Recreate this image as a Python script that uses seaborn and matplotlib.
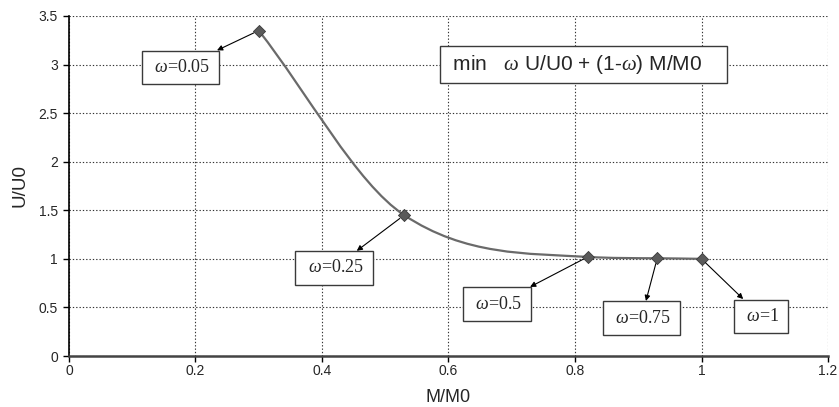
import numpy as np
import pandas as pd
import matplotlib
matplotlib.use("Agg")
import matplotlib.pyplot as plt
from matplotlib.path import Path
from matplotlib.patches import PathPatch
import seaborn as sns

# Pareto points of the weighted objective
m_ratio = [0.30, 0.53, 0.82, 0.93, 1.00]
u_ratio = [3.35, 1.45, 1.02, 1.006, 1.00]
weights = ["0.05", "0.25", "0.5", "0.75", "1"]
label_x = [0.177, 0.419, 0.677, 0.905, 1.094]
label_y = [2.97, 0.906, 0.535, 0.39, 0.41]

x_ticks = [0, 0.2, 0.4, 0.6, 0.8, 1, 1.2]
y_ticks = [0, 0.5, 1, 1.5, 2, 2.5, 3, 3.5]

sns.set_style("white")
plt.rcParams["font.family"] = ["Liberation Sans", "DejaVu Sans"]
plt.rcParams["mathtext.fontset"] = "custom"
plt.rcParams["mathtext.it"] = "Liberation Serif:italic"
plt.rcParams["mathtext.rm"] = "Liberation Serif"

fig = plt.figure(figsize=(8.39, 4.07), dpi=100)
ax = fig.add_axes([0.0822, 0.1253, 0.9047, 0.8354])
ax.set_xlim(0, 1.2)
ax.set_ylim(0, 3.5)


def smooth_path(xs, ys):
    """Monotone-limited cubic Hermite curve written as Bezier segments."""
    xs = np.asarray(xs, float)
    ys = np.asarray(ys, float)
    h = np.diff(xs)
    d = np.diff(ys) / h
    n = len(xs)
    m = np.empty(n)
    m[0], m[-1] = d[0], d[-1]
    for i in range(1, n - 1):
        m[i] = (ys[i + 1] - ys[i - 1]) / (xs[i + 1] - xs[i - 1])
    for k in range(n - 1):
        a, b = m[k] / d[k], m[k + 1] / d[k]
        s = a * a + b * b
        if s > 9:
            tau = 3.0 / np.sqrt(s)
            m[k] *= tau
            m[k + 1] *= tau
    verts = [(xs[0], ys[0])]
    codes = [Path.MOVETO]
    for k in range(n - 1):
        step = h[k] / 3.0
        verts += [(xs[k] + step, ys[k] + m[k] * step),
                  (xs[k + 1] - step, ys[k + 1] - m[k + 1] * step),
                  (xs[k + 1], ys[k + 1])]
        codes += [Path.CURVE4] * 3
    return Path(verts, codes)


ax.add_patch(PathPatch(smooth_path(m_ratio, u_ratio), fc="none",
                       ec="#6a6a6a", lw=1.6, zorder=3))

df = pd.DataFrame({"M/M0": m_ratio, "U/U0": u_ratio})
sns.scatterplot(data=df, x="M/M0", y="U/U0", marker="D", s=38,
                color="#5a5a5a", edgecolor="#3a3a3a", linewidth=0.6,
                zorder=4, ax=ax)

for x, y, w, tx, ty in zip(m_ratio, u_ratio, weights, label_x, label_y):
    ax.annotate(r" $\omega$=" + w + " ", xy=(x, y), xytext=(tx, ty),
                ha="center", va="center", fontsize=13,
                family="Liberation Serif", zorder=5,
                bbox=dict(boxstyle="square,pad=0.45", fc="white",
                          ec="#3a3a3a", lw=1.0),
                arrowprops=dict(arrowstyle="<|-", color="black", lw=0.8,
                                mutation_scale=8, shrinkA=0, shrinkB=4))

ax.text(0.814, 3.0, r" min   $\omega$ U/U0 + (1-$\omega$) M/M0    ",
        ha="center", va="center", fontsize=15, zorder=5,
        bbox=dict(boxstyle="square,pad=0.33", fc="white", ec="#3a3a3a", lw=1.0))

ax.set_xticks(x_ticks)
ax.set_yticks(y_ticks)
ax.set_xticklabels([f"{t:g}" for t in x_ticks], fontsize=10)
ax.set_yticklabels([f"{t:g}" for t in y_ticks], fontsize=10)
ax.set_xlabel("M/M0", fontsize=13, labelpad=8)
ax.set_ylabel("U/U0", fontsize=13.5, labelpad=7)

ax.grid(True, color="#333333", linestyle=(0, (1.2, 1.8)), linewidth=0.8)
ax.set_axisbelow(True)
for side in ["top", "right"]:
    ax.spines[side].set_visible(False)
ax.spines["left"].set_color("black")
ax.spines["left"].set_linewidth(1.2)
ax.spines["bottom"].set_color("#444444")
ax.spines["bottom"].set_linewidth(1.8)
ax.tick_params(axis="both", direction="out", length=4, width=1,
               color="black", left=True, bottom=True)
ax.tick_params(axis="x", pad=2)
ax.tick_params(axis="y", pad=4)

fig.savefig("out.png", dpi=100, facecolor="white")
